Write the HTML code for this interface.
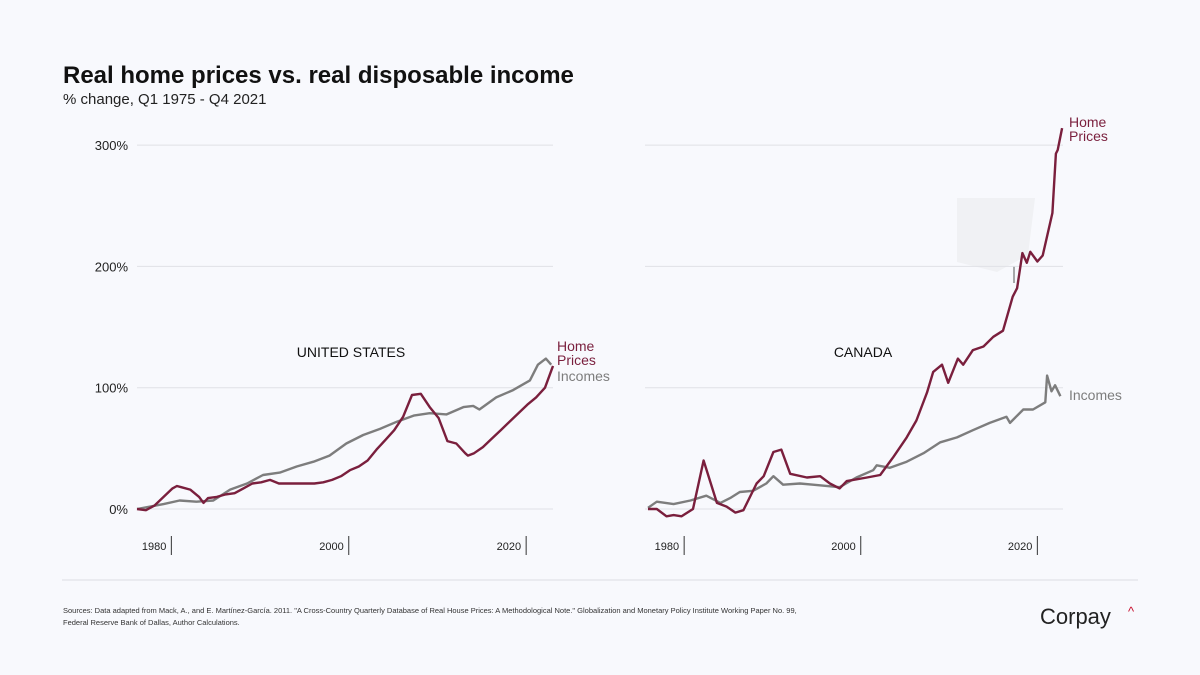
<!DOCTYPE html>
<html><head><meta charset="utf-8"><style>
body{margin:0;background:#f8f9fd;font-family:"Liberation Sans",sans-serif;}
#wrap{position:relative;width:1200px;height:675px;overflow:hidden;background:#f8f9fd;}
</style></head><body>
<div id="wrap">
<svg id="svg" width="1200" height="675">
<text x="63" y="83" font-size="24" font-weight="bold" fill="#111">Real home prices vs. real disposable income</text>
<text x="63" y="104" font-size="15" fill="#222">% change, Q1 1975 - Q4 2021</text>
<line x1="62" y1="580" x2="1138" y2="580" stroke="#dcdde3" stroke-width="1"/>
<text x="63" y="613" font-size="7.5" fill="#333">Sources: Data adapted from Mack, A., and E. Martínez-García. 2011. "A Cross-Country Quarterly Database of Real House Prices: A Methodological Note." Globalization and Monetary Policy Institute Working Paper No. 99,</text>
<text x="63" y="625" font-size="7.5" fill="#333">Federal Reserve Bank of Dallas, Author Calculations.</text>
<text x="1040" y="624" font-size="22" fill="#222">Corpay</text>
<text x="1128" y="616" font-size="13" fill="#c8102e">^</text>
<path d="M957 198 L1035 198 L1028 255 L997 272 L957 262 Z" fill="#f0f1f4"/>
<line x1="1014" y1="266" x2="1014" y2="283" stroke="#555" stroke-width="1"/>
<g id="g"></g>
</svg>
</div>
<script>
const yTicks=[0,100,200,300];
const yTickLabels=["0%","100%","200%","300%"];
const xTicks=[1980,2000,2020];
const usPriceYears=[1975,1976,1977,1978,1979,1979.5,1980,1981,1982,1982.5,1983,1984,1985,1986,1987,1988,1989,1990,1991,1992,1993,1994,1995,1996,1997,1998,1999,2000,2001,2002,2003,2004,2005,2006,2007,2008,2009,2010,2011,2012,2012.3,2013,2014,2015,2016,2017,2018,2019,2020,2021,2021.9];
const usPriceValues=[0,-1,3,10,17,19,18,16,10,5,9,10,12,13,17,21,22,24,21,21,21,21,21,22,24,27,32,35,40,49,57,65,76,94,95,84,75,56,54,46,44,46,51,58,65,72,79,86,92,100,118];
const usIncomeYears=[1975,1978,1979.8,1981.7,1983.6,1985.5,1987.4,1989.2,1991.1,1993,1994.9,1996.7,1998.6,2000.5,2002.4,2004.3,2006.2,2008,2009.9,2011.8,2012.9,2013.6,2015.5,2017.4,2019.3,2020.2,2021.1,2021.7];
const usIncomeValues=[0,4,7,6,7,16,21,28,30,35,39,44,54,61,66,72,77,79,78,84,85,82,92,98,106,119,124,119];
const caPriceYears=[1975,1976,1977.1,1977.9,1978.8,1980.1,1981.3,1982.8,1983.9,1984.9,1985.8,1987.3,1988.1,1989.2,1990.1,1991.1,1993,1994.5,1995.6,1996.7,1997.5,1999.8,2001.3,2002.8,2004.3,2005.4,2006.6,2007.3,2008.3,2009,2010.1,2010.7,2011.8,2013,2014.1,2015.2,2016.3,2016.8,2017.4,2017.9,2018.3,2019.1,2019.7,2020.8,2021.2,2021.4,2021.9];
const caPriceValues=[0,0,-6,-5,-6,0,40,5,2,-3,-1,21,27,47,49,29,26,27,21,17,23,26,28,43,59,73,96,113,119,104,124,119,131,134,142,147,175,182,211,203,212,204,209,244,293,296,314];
const caIncomeYears=[1975,1976,1977.9,1979.8,1981.6,1983.2,1984.3,1985.4,1986.9,1988.4,1989.2,1990.3,1992.2,1993.7,1996.7,1998.6,2000.5,2000.9,2002.4,2004.3,2006.2,2008.1,2010,2011.8,2013.7,2015.6,2016,2017.5,2018.6,2020,2020.2,2020.7,2021.1,2021.7];
const caIncomeValues=[1,6,4,7,11,5,9,14,15,21,27,20,21,20,18,26,32,36,34,39,46,55,59,65,71,76,71,82,82,88,110,97,102,93];

const NS="http://www.w3.org/2000/svg";
const g=document.getElementById('g');
function yS(v){return 509-v*1.213;}
function mk(tag,attrs){const e=document.createElementNS(NS,tag);for(const k in attrs)e.setAttribute(k,attrs[k]);g.appendChild(e);return e;}
function panel(p){
  const xS=y=>p.x0+(y-1975)*p.ppy;
  yTicks.forEach((t,i)=>{
    const l=mk('line',{x1:p.gx0,x2:p.x1,y1:yS(t),y2:yS(t),stroke:'#e0e1e6','stroke-width':1});
    
    
    if(p.labels){
      const tx=mk('text',{x:128,y:yS(t)+5,'text-anchor':'end','font-size':13,fill:'#222'});
      tx.textContent=yTickLabels[i];
      
      
    }
  });
  xTicks.forEach(t=>{
    const xp=xS(t)-p.tickOff;
    const l=mk('line',{x1:xp,x2:xp,y1:536,y2:555,stroke:'#333','stroke-width':1});
    
    
    const tx=mk('text',{x:xp-5,y:550,'text-anchor':'end','font-size':11,fill:'#222'});
    tx.textContent=t;
    
    
  });
  const t=mk('text',{x:p.titleX,y:357,'text-anchor':'middle','font-size':14,fill:'#111'});
  t.textContent=p.title;
  
  
  const line=(ys,vs,col,nm)=>{
    const d=ys.map((y,i)=>(i?'L':'M')+xS(y).toFixed(1)+' '+yS(vs[i]).toFixed(1)).join(' ');
    const e=mk('path',{d:d,fill:'none',stroke:col,'stroke-width':2.4,'stroke-linejoin':'round'});
    
    
  };
  line(p.iy,p.iv,'#7d7d7d',p.id+'-incomes-line');
  line(p.py,p.pv,'#7a1f3d',p.id+'-home-prices-line');
}
panel({id:'us',x0:137,gx0:137,x1:553,ppy:8.87,tickOff:10,labels:true,title:'UNITED STATES',titleX:351,py:usPriceYears,pv:usPriceValues,iy:usIncomeYears,iv:usIncomeValues});
panel({id:'canada',x0:648,gx0:645,x1:1063,ppy:8.83,tickOff:8,labels:false,title:'CANADA',titleX:863,py:caPriceYears,pv:caPriceValues,iy:caIncomeYears,iv:caIncomeValues});
function lbl(x,y,txt,col,nm){const e=mk('text',{x:x,y:y,'font-size':14,fill:col});e.textContent=txt;

}
lbl(557,351,'Home','#7a1f3d','us-home-prices-label-1');
lbl(557,365,'Prices','#7a1f3d','us-home-prices-label-2');
lbl(557,381,'Incomes','#7d7d7d','us-incomes-label');
lbl(1069,127,'Home','#7a1f3d','canada-home-prices-label-1');
lbl(1069,141,'Prices','#7a1f3d','canada-home-prices-label-2');
lbl(1069,400,'Incomes','#7d7d7d','canada-incomes-label');
</script>
</body></html>
